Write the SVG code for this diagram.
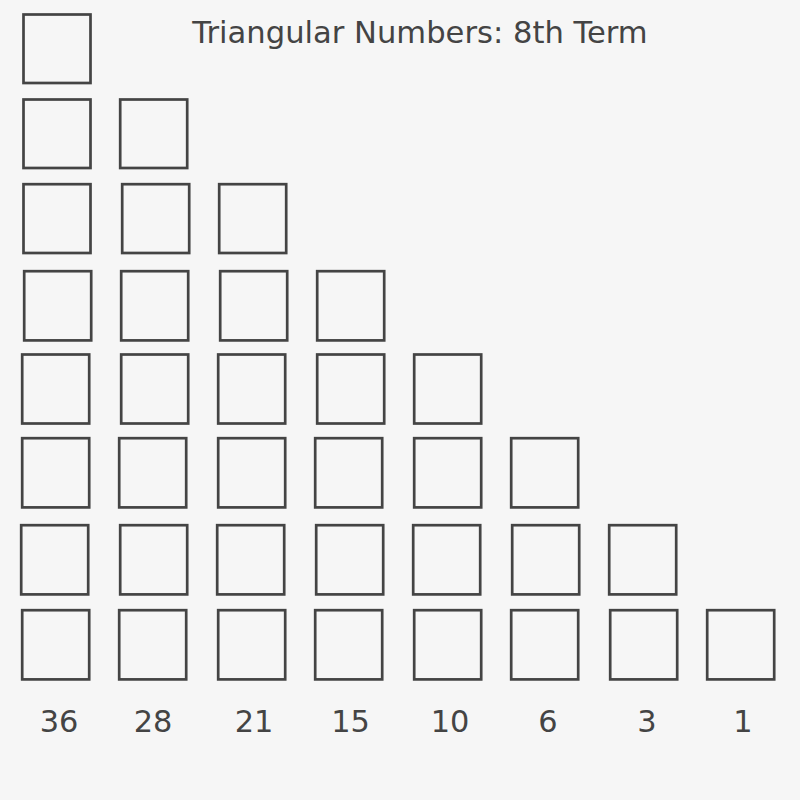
<svg xmlns="http://www.w3.org/2000/svg" width="800" height="800" viewBox="0 0 800 800">
<style>
.sq{fill:none;stroke:#444;stroke-width:2.7}
.t{font-family:"DejaVu Sans",Verdana,sans-serif;fill:#444;text-anchor:middle}
.title{font-size:30.6px}
.lbl{font-size:30.4px}
</style>
<rect width="800" height="800" fill="#f6f6f6"/>
<text class="t title" x="420" y="43.3">Triangular Numbers: 8th Term</text>
<g id="squares">
<g id="row1"><rect class="sq" x="23.5" y="14.5" width="67" height="68.5"/></g>
<g id="row2">
<rect class="sq" x="23.5" y="99.5" width="67" height="68.5"/>
<rect class="sq" x="120.2" y="99.5" width="67" height="68.5"/>
</g>
<g id="row3">
<rect class="sq" x="23.5" y="184.2" width="67" height="68.8"/>
<rect class="sq" x="122.2" y="184.2" width="67" height="68.8"/>
<rect class="sq" x="219.2" y="184.2" width="67" height="68.8"/>
</g>
<g id="row4">
<rect class="sq" x="24.2" y="271.2" width="67" height="69.2"/>
<rect class="sq" x="121.2" y="271.2" width="67" height="69.2"/>
<rect class="sq" x="220.2" y="271.2" width="67" height="69.2"/>
<rect class="sq" x="317.2" y="271.2" width="67" height="69.2"/>
</g>
<g id="row5">
<rect class="sq" x="22.2" y="354.5" width="67" height="69"/>
<rect class="sq" x="121.2" y="354.5" width="67" height="69"/>
<rect class="sq" x="218.2" y="354.5" width="67" height="69"/>
<rect class="sq" x="317.2" y="354.5" width="67" height="69"/>
<rect class="sq" x="414.2" y="354.5" width="67" height="69"/>
</g>
<g id="row6">
<rect class="sq" x="22.2" y="438.2" width="67" height="69.2"/>
<rect class="sq" x="119.2" y="438.2" width="67" height="69.2"/>
<rect class="sq" x="218.2" y="438.2" width="67" height="69.2"/>
<rect class="sq" x="315.2" y="438.2" width="67" height="69.2"/>
<rect class="sq" x="414.2" y="438.2" width="67" height="69.2"/>
<rect class="sq" x="511.2" y="438.2" width="67" height="69.2"/>
</g>
<g id="row7">
<rect class="sq" x="21.2" y="525.2" width="67" height="69.2"/>
<rect class="sq" x="120.2" y="525.2" width="67" height="69.2"/>
<rect class="sq" x="217.2" y="525.2" width="67" height="69.2"/>
<rect class="sq" x="316.2" y="525.2" width="67" height="69.2"/>
<rect class="sq" x="413.2" y="525.2" width="67" height="69.2"/>
<rect class="sq" x="512.2" y="525.2" width="67" height="69.2"/>
<rect class="sq" x="609.2" y="525.2" width="67" height="69.2"/>
</g>
<g id="row8">
<rect class="sq" x="22.2" y="610.2" width="67" height="69.2"/>
<rect class="sq" x="119.2" y="610.2" width="67" height="69.2"/>
<rect class="sq" x="218.2" y="610.2" width="67" height="69.2"/>
<rect class="sq" x="315.2" y="610.2" width="67" height="69.2"/>
<rect class="sq" x="414.2" y="610.2" width="67" height="69.2"/>
<rect class="sq" x="511.2" y="610.2" width="67" height="69.2"/>
<rect class="sq" x="610.2" y="610.2" width="67" height="69.2"/>
<rect class="sq" x="707.2" y="610.2" width="67" height="69.2"/>
</g>
</g>
<g id="labels">
<text class="t lbl" x="59" y="732">36</text>
<text class="t lbl" x="153" y="732">28</text>
<text class="t lbl" x="254" y="732">21</text>
<text class="t lbl" x="350.5" y="732">15</text>
<text class="t lbl" x="450" y="732">10</text>
<text class="t lbl" x="548" y="732">6</text>
<text class="t lbl" x="647" y="732">3</text>
<text class="t lbl" x="743" y="732">1</text>
</g>
</svg>
